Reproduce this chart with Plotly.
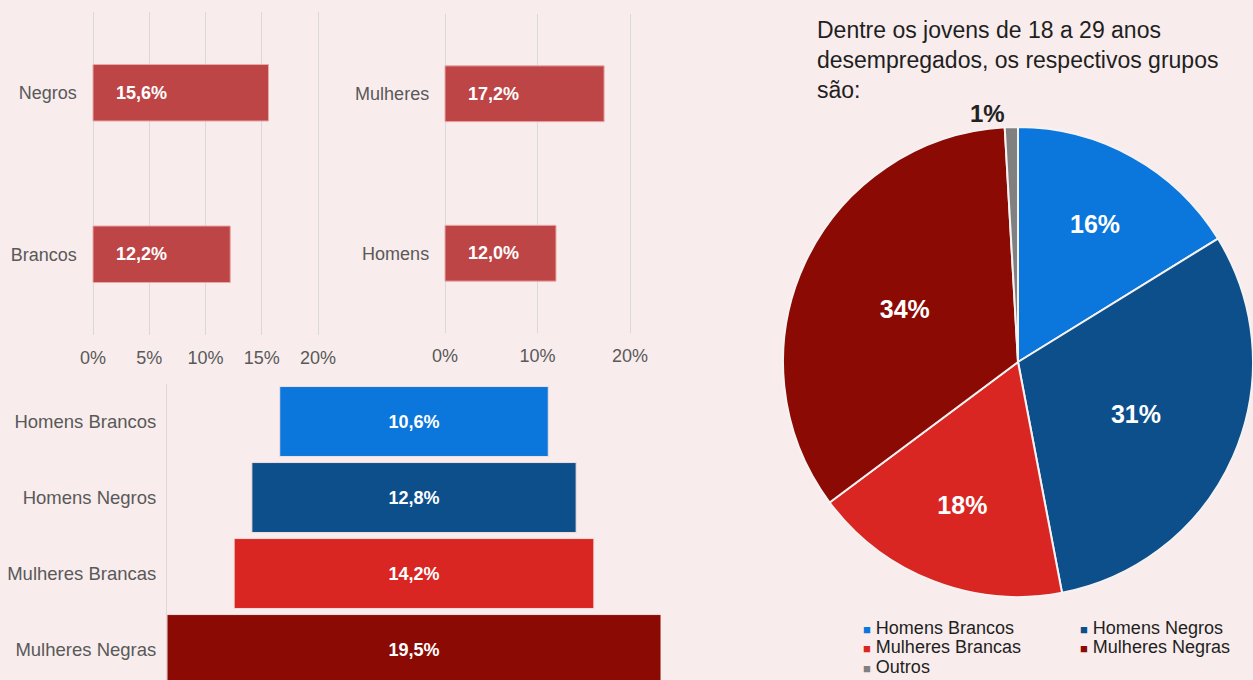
import plotly.graph_objects as go

W, H = 1253, 680

# ---------------- data ----------------
raca_cats = ["Negros", "Brancos"]
raca_vals = [15.6, 12.2]
raca_ticks = [0, 5, 10, 15, 20]

sexo_cats = ["Mulheres", "Homens"]
sexo_vals = [17.2, 12.0]
sexo_ticks = [0, 10, 20]

grupo_cats = ["Homens Brancos", "Homens Negros", "Mulheres Brancas", "Mulheres Negras"]
grupo_vals = [10.6, 12.8, 14.2, 19.5]

pie_labels = ["Homens Brancos", "Homens Negros", "Mulheres Brancas", "Mulheres Negras", "Outros"]
pie_vals = [16.2, 30.8, 17.8, 34.3, 0.9]

titulo = ["Dentre os jovens de 18 a 29 anos",
          "desempregados, os respectivos grupos",
          "são:"]

# ---------------- style ----------------
BG = "#f8ecec"
BAR = "#be4546"
GRID = "#d9d9d9"
AXTXT = "#595959"
FONT = "Liberation Sans, Arial, sans-serif"
grupo_colors = ["#0b76db", "#0d4f8b", "#d92622", "#8b0b04"]
pie_colors = grupo_colors + ["#808080"]
NB = "\u00a0"


def px(x):
    return x / W


def py(y):
    return 1 - y / H


fig = go.Figure()

fig.add_trace(go.Bar(
    y=raca_cats, x=raca_vals, orientation="h", xaxis="x", yaxis="y",
    marker=dict(color=BAR, line=dict(color="#eaa9a9", width=1)),
    texttemplate=NB * 4 + "%{x:.1f}%", textposition="inside", insidetextanchor="start",
    textfont=dict(color="white", size=18, family=FONT, weight="bold"),
    hoverinfo="skip", showlegend=False,
))

fig.add_trace(go.Bar(
    y=sexo_cats, x=sexo_vals, orientation="h", xaxis="x2", yaxis="y2",
    marker=dict(color=BAR, line=dict(color="#eaa9a9", width=1)),
    texttemplate=NB * 4 + "%{x:.1f}%", textposition="inside", insidetextanchor="start",
    textfont=dict(color="white", size=18, family=FONT, weight="bold"),
    hoverinfo="skip", showlegend=False,
))

fig.add_trace(go.Funnel(
    y=grupo_cats, x=grupo_vals, xaxis="x3", yaxis="y3",
    marker=dict(color=grupo_colors, line=dict(color="#f3dede", width=1)),
    connector=dict(visible=False),
    texttemplate="%{x:.1f}%", textposition="inside", insidetextanchor="middle",
    textfont=dict(color="white", size=18, family=FONT, weight="bold"),
    hoverinfo="skip", showlegend=False,
))

fig.add_trace(go.Pie(
    labels=pie_labels, values=pie_vals, sort=False, direction="clockwise", rotation=0,
    domain=dict(x=[px(783), 1.0], y=[py(599), py(125)]),
    marker=dict(colors=pie_colors, line=dict(color="#f6f2f2", width=2)),
    texttemplate="%{percent:.0%}",
    textposition=["inside", "inside", "inside", "inside", "outside"],
    insidetextorientation="horizontal",
    insidetextfont=dict(color="white", size=25, family=FONT, weight="bold"),
    outsidetextfont=dict(color="#222222", size=24, family=FONT, weight="bold"),
    showlegend=False, hoverinfo="skip",
))

axis_cat = dict(type="category", autorange="reversed", showgrid=False, zeroline=False,
                showline=False, ticks="", tickfont=dict(size=18, color=AXTXT, family=FONT),
                ticklabelstandoff=13, fixedrange=True)
axis_val = dict(range=[-0.2, 20.2], showgrid=True, gridcolor=GRID, gridwidth=1,
                zeroline=False, showline=False, ticks="",
                tickfont=dict(size=18, color=AXTXT, family=FONT),
                ticklabelstandoff=10, fixedrange=True)

fig.update_layout(
    width=W, height=H, margin=dict(l=0, r=0, t=0, b=0),
    paper_bgcolor=BG, plot_bgcolor=BG, template="none",
    font=dict(family=FONT, color=AXTXT),
    separators=",.", bargap=0.65, funnelgap=0.08, showlegend=False,
    xaxis=dict(axis_val, domain=[px(90.75), px(320.25)], tickvals=raca_ticks,
               ticktext=[f"{v}%" for v in raca_ticks], anchor="y"),
    yaxis=dict(axis_cat, domain=[py(335), py(12)], anchor="x"),
    xaxis2=dict(axis_val, domain=[px(443.15), px(631.85)], tickvals=sexo_ticks,
                ticktext=[f"{v}%" for v in sexo_ticks], anchor="y2"),
    yaxis2=dict(axis_cat, domain=[py(333), py(14)], anchor="x2"),
    xaxis3=dict(domain=[px(167), px(661)], range=[-9.75, 9.75], showgrid=False,
                zeroline=False, showline=False, showticklabels=False, ticks="",
                anchor="y3", fixedrange=True),
    yaxis3=dict(type="category", domain=[0, py(383.5)], range=[3.401, -0.5],
                autorange=False, showgrid=False, zeroline=False, showline=True,
                linecolor="#e2d6d6", linewidth=1, ticks="",
                tickfont=dict(size=18.5, color=AXTXT, family=FONT),
                ticklabelstandoff=6, anchor="x3", fixedrange=True),
)

annotations = [dict(
    text="<br>".join(titulo), x=px(815), y=py(15), xref="paper", yref="paper",
    xanchor="left", yanchor="top", align="left", showarrow=False,
    font=dict(size=23, color="#1f1f1f", family=FONT),
)]

legend_pos = [(861, 628), (1078, 628), (861, 647), (1078, 647), (861, 667)]
for lab, col, (lx, ly) in zip(pie_labels, pie_colors, legend_pos):
    annotations.append(dict(
        text=f'<span style="color:{col};font-size:13px">■</span> {lab}',
        x=px(lx), y=py(ly), xref="paper", yref="paper", xanchor="left", yanchor="middle",
        showarrow=False, font=dict(size=18, color="#1f1f1f", family=FONT),
    ))
fig.update_layout(annotations=annotations)

fig.write_html("out.html")
